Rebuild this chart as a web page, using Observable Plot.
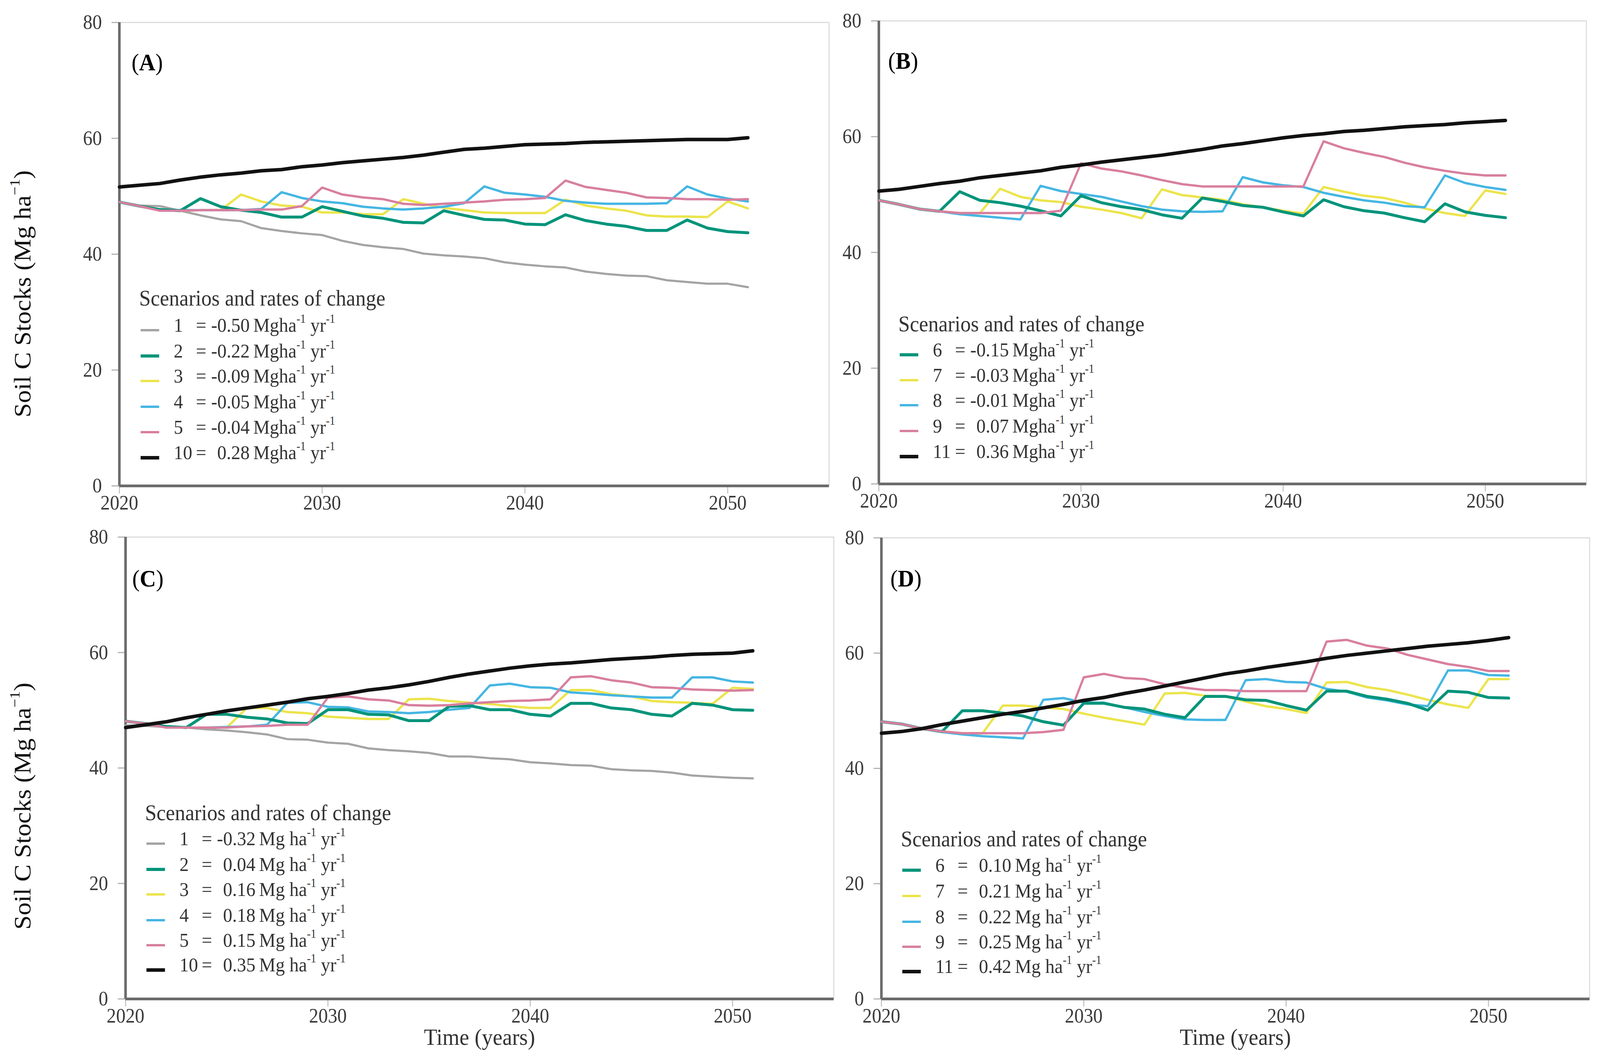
<!DOCTYPE html>
<html>
<head>
<meta charset="utf-8">
<script src="https://cdn.jsdelivr.net/npm/d3@7"></script>
<script src="https://cdn.jsdelivr.net/npm/@observablehq/plot@0.6"></script>
<style>
html,body{margin:0;padding:0;background:#fff;overflow:hidden;}
#root{position:absolute;left:0;top:0;width:4403px;height:2723px;background:#fff;font-family:"Liberation Serif","Times New Roman",serif;color:#2a2a2a;overflow:hidden;transform-origin:0 0;}
.abs{position:absolute;white-space:nowrap;line-height:1;}
sup{font-size:0.6em;vertical-align:0;position:relative;top:-0.75em;}
</style>
</head>
<body>
<div id="root"></div>
<script>
// ---------- data ----------
const years = [2020,2021,2022,2023,2024,2025,2026,2027,2028,2029,2030,2031,2032,2033,2034,2035,2036,2037,2038,2039,2040,2041,2042,2043,2044,2045,2046,2047,2048,2049,2050,2051];
const xTicks = [2020,2030,2040,2050];
const yTicks = [0,20,40,60,80];

// Panel A
const A1  = [49.0,48.4,48.3,47.5,46.7,46.0,45.7,44.5,44.0,43.6, 43.3,42.3,41.6,41.2,40.9,40.1,39.8,39.6,39.3,38.6, 38.2,37.9,37.7,37.0,36.6,36.3,36.2,35.5,35.2,34.9, 34.9,34.3];
const A2  = [49.0,48.3,47.7,47.5,49.6,48.2,47.6,47.2,46.4,46.4, 48.2,47.4,46.6,46.2,45.5,45.4,47.5,46.7,46.0,45.9, 45.2,45.1,46.8,45.8,45.2,44.8,44.1,44.1,45.9,44.5, 43.9,43.7];
const A3  = [49.0,48.3,47.7,47.5,47.6,47.6,50.3,49.1,48.4,48.2, 47.2,47.2,46.9,46.9,49.5,48.7,48.0,47.6,47.2,47.1, 47.1,47.1,49.4,48.4,47.9,47.5,46.7,46.5,46.5,46.4, 49.1,47.9];
const A4  = [49.0,48.3,47.6,47.6,47.6,47.6,47.6,47.8,50.7,49.7, 49.1,48.8,48.2,47.9,47.7,47.9,48.2,48.8,51.7,50.6, 50.3,49.9,49.2,48.9,48.7,48.7,48.7,48.8,51.7,50.3, 49.6,49.1];
const A5  = [49.0,48.3,47.5,47.5,47.6,47.6,47.6,47.7,47.7,48.3, 51.5,50.3,49.8,49.5,48.7,48.5,48.7,48.9,49.1,49.4, 49.5,49.7,52.7,51.6,51.1,50.6,49.8,49.7,49.5,49.5, 49.4,49.5];
const A10 = [51.6,51.9,52.2,52.8,53.3,53.7,54.0,54.4,54.6,55.1, 55.4,55.8,56.1,56.4,56.7,57.1,57.6,58.1,58.3,58.6, 58.9,59.0,59.1,59.3,59.4,59.5,59.6,59.7,59.8,59.8, 59.8,60.1];

// Panel B
const B6  = [49.0,48.3,47.5,47.1,50.5,49.0,48.6,48.0,47.2,46.3, 49.8,48.6,47.9,47.4,46.5,45.9,49.4,48.8,48.1,47.8, 47.0,46.3,49.1,47.9,47.2,46.8,46.0,45.3,48.4,47.0, 46.4,46.0];
const B7  = [49.0,48.3,47.5,47.1,46.8,46.8,51.0,49.6,49.0,48.7, 47.9,47.4,46.8,45.9,50.9,49.9,49.5,49.1,48.3,47.8, 47.2,46.7,51.3,50.5,49.8,49.4,48.6,47.6,46.8,46.3, 50.7,50.1];
const B8  = [49.0,48.3,47.5,47.1,46.6,46.3,46.0,45.7,51.5,50.6, 50.1,49.6,48.8,48.0,47.4,47.1,47.0,47.1,53.0,52.1, 51.6,51.3,50.3,49.6,49.0,48.6,48.0,47.8,53.3,52.0, 51.3,50.8];
const B9  = [49.0,48.3,47.5,47.1,46.8,46.8,46.8,46.8,46.8,47.2, 55.4,54.5,54.0,53.3,52.5,51.8,51.4,51.4,51.4,51.4, 51.4,51.4,59.2,58.0,57.2,56.5,55.5,54.7,54.1,53.6, 53.3,53.3];
const B11 = [50.6,50.9,51.4,51.9,52.3,52.9,53.3,53.7,54.1,54.7, 55.1,55.6,56.0,56.4,56.8,57.3,57.8,58.4,58.8,59.3, 59.8,60.2,60.5,60.9,61.1,61.4,61.7,61.9,62.1,62.4, 62.6,62.8];

// Panel C
const C1  = [47.4,47.3,47.1,47.0,46.7,46.5,46.2,45.8,45.0,44.9, 44.4,44.2,43.4,43.1,42.9,42.6,42.0,42.0,41.7,41.5, 41.0,40.8,40.5,40.4,39.8,39.6,39.5,39.2,38.7,38.5, 38.3,38.2];
const C2  = [48.1,47.7,47.2,47.0,49.3,49.3,48.8,48.5,47.8,47.7, 50.1,50.1,49.3,49.2,48.2,48.2,50.7,50.8,50.1,50.1, 49.3,49.0,51.2,51.2,50.4,50.1,49.3,49.0,51.2,50.9, 50.1,50.0];
const C3  = [48.1,47.7,47.2,47.0,47.0,47.0,50.4,50.4,49.7,49.5, 48.9,48.7,48.5,48.5,51.9,52.0,51.6,51.3,51.1,50.7, 50.4,50.4,53.5,53.5,52.8,52.4,51.6,51.4,51.3,51.1, 53.9,53.7];
const C4  = [48.1,47.7,47.2,47.0,47.0,47.1,47.2,47.5,51.3,51.4, 50.6,50.5,49.8,49.7,49.5,49.7,50.1,50.4,54.3,54.6, 54.0,53.9,53.1,52.9,52.6,52.4,52.2,52.2,55.7,55.7, 55.0,54.8];
const C5  = [48.1,47.7,47.0,47.0,47.0,47.0,47.2,47.3,47.5,47.5, 52.2,52.4,51.9,51.7,50.9,50.8,50.9,51.2,51.4,51.6, 51.7,51.9,55.7,55.9,55.2,54.8,54.0,53.9,53.6,53.5, 53.4,53.5];
const C10 = [47.0,47.5,48.0,48.7,49.3,49.9,50.4,50.9,51.4,52.0, 52.4,52.9,53.5,53.9,54.4,55.0,55.7,56.3,56.8,57.3, 57.7,58.0,58.2,58.5,58.8,59.0,59.2,59.5,59.7,59.8, 59.9,60.3];

// Panel D
const D6  = [48.1,47.7,46.9,46.4,50.0,50.0,49.6,49.1,48.1,47.5, 51.3,51.3,50.6,50.3,49.4,48.8,52.5,52.5,51.9,51.8, 50.9,50.1,53.4,53.4,52.5,52.0,51.3,50.1,53.4,53.2, 52.3,52.2];
const D7  = [48.1,47.7,46.9,46.4,46.1,46.1,50.9,50.9,50.6,50.3, 49.5,48.8,48.2,47.6,53.0,53.1,52.6,52.5,51.6,50.8, 50.3,49.6,54.9,55.0,54.1,53.6,52.8,51.9,51.1,50.5, 55.5,55.5];
const D8  = [48.1,47.7,46.9,46.3,45.9,45.6,45.4,45.2,51.9,52.2, 51.4,51.4,50.6,49.8,49.1,48.5,48.4,48.4,55.3,55.5, 55.0,54.9,53.8,53.3,52.3,51.8,51.1,50.8,57.0,57.0, 56.2,56.1];
const D9  = [48.1,47.7,46.9,46.4,46.1,46.1,46.1,46.1,46.3,46.7, 55.8,56.4,55.7,55.5,54.6,54.0,53.6,53.6,53.4,53.4, 53.4,53.4,62.0,62.3,61.3,60.8,59.7,58.9,58.1,57.6, 56.9,56.9];
const D11 = [46.1,46.4,46.9,47.6,48.2,48.8,49.4,49.9,50.5,51.1, 51.8,52.3,53.0,53.6,54.3,55.0,55.7,56.4,56.9,57.5, 58.0,58.5,59.1,59.6,60.0,60.4,60.8,61.2,61.5,61.8, 62.2,62.7];

// legend labels
const legendTitle = "Scenarios and rates of change";
const scenA = ["1","2","3","4","5","10"];
const rateA = ["-0.50","-0.22","-0.09","-0.05","-0.04","0.28"];
const scenB = ["6","7","8","9","11"];
const rateB = ["-0.15","-0.03","-0.01","0.07","0.36"];
const scenC = ["1","2","3","4","5","10"];
const rateC = ["-0.32","0.04","0.16","0.18","0.15","0.35"];
const scenD = ["6","7","8","9","11"];
const rateD = ["0.10","0.21","0.22","0.25","0.42"];
const yTitle = "Soil C Stocks (Mg ha<sup>−1</sup>)";
const xTitle = "Time (years)";

// ---------- styling ----------
const colors = {gray:"#a4a4a4", green:"#00947a", yellow:"#ece44c", blue:"#45b6e2", pink:"#d87f9f", black:"#111111"};
const widths = {gray:5.5, green:7.5, yellow:6, blue:6, pink:6, black:9};
const colorOf = {"1":"gray","2":"green","3":"yellow","4":"blue","5":"pink","10":"black",
                 "6":"green","7":"yellow","8":"blue","9":"pink","11":"black"};

const panels = [
  {label:"A", frame:[328,2281,57,1243], labelPos:[362,162],
   series:{"1":A1,"2":A2,"3":A3,"4":A4,"5":A5,"10":A10}, order:["1","3","4","2","5","10"],
   scen:scenA, rate:rateA, unit:"Mgha", leg:{left:387, titleCy:763, rows:[845,911,975,1041,1106,1171]}},
  {label:"B", frame:[2418,4365,53,1238], labelPos:[2444,158],
   series:{"6":B6,"7":B7,"8":B8,"9":B9,"11":B11}, order:["7","8","6","9","11"],
   scen:scenB, rate:rateB, unit:"Mgha", leg:{left:2476, titleCy:829, rows:[908,973,1037,1103,1168]}},
  {label:"C", frame:[345,2294,1374,2556], labelPos:[364,1483],
   series:{"1":C1,"2":C2,"3":C3,"4":C4,"5":C5,"10":C10}, order:["1","3","4","2","5","10"],
   scen:scenC, rate:rateC, unit:"Mg ha", leg:{left:403, titleCy:2080, rows:[2159,2225,2289,2355,2419,2482]}, xTitle:true},
  {label:"D", frame:[2425,4374,1376,2556], labelPos:[2450,1483],
   series:{"6":D6,"7":D7,"8":D8,"9":D9,"11":D11}, order:["7","8","6","9","11"],
   scen:scenD, rate:rateD, unit:"Mg ha", leg:{left:2483, titleCy:2147, rows:[2227,2293,2359,2423,2486]}, xTitle:true}
];

const W = 4403, H = 2723;
const root = document.getElementById("root");
function fit() {
  const vw = document.documentElement.clientWidth || window.innerWidth;
  const vh = document.documentElement.clientHeight || window.innerHeight;
  const sx = vw / W, sy = vh / H;
  root.style.transform = (Math.abs(sx - 1) < 0.002 && Math.abs(sy - 1) < 0.002) ? "none" : `scale(${sx},${sy})`;
}
function addDiv(html, css) {
  const d = document.createElement("div");
  d.className = "abs";
  d.innerHTML = html;
  Object.assign(d.style, css);
  root.appendChild(d);
  return d;
}

const xDomain = [2020, 2055];
const yDomain = [0, 80];

panels.forEach(p => {
  const [x0, x1, y0, y1] = p.frame;
  const ml = 200, mr = 30, mt = 60, mb = 90;
  const marks = [
    Plot.frame({stroke: "#dcdcdc", strokeWidth: 3}),
    Plot.axisY({ticks: yTicks, tickSize: 21, tickPadding: 27, stroke: "#b4b4b4", fill: "#3a3a3a", label: null, strokeWidth: 3}),
    Plot.axisX({ticks: xTicks, tickSize: 20, tickPadding: 4, stroke: "#c4c4c4", fill: "#3a3a3a", label: null, tickFormat: "d", strokeWidth: 3}),
    Plot.ruleX([xDomain[0]], {stroke: "#6b6b6b", strokeWidth: 7}),
    Plot.ruleY([yDomain[0]], {stroke: "#6b6b6b", strokeWidth: 7})
  ];
  p.order.forEach(id => {
    const c = colorOf[id];
    const rows = years.map((yr, i) => ({year: yr, value: p.series[id][i]}));
    marks.push(Plot.line(rows, {x: "year", y: "value", stroke: colors[c], strokeWidth: widths[c], strokeLinejoin: "round"}));
  });
  const svg = Plot.plot({
    width: x1 - x0 + ml + mr,
    height: y1 - y0 + mt + mb,
    marginLeft: ml, marginRight: mr, marginTop: mt, marginBottom: mb,
    x: {domain: xDomain},
    y: {domain: yDomain},
    style: {fontFamily: "'Liberation Serif', serif", fontSize: "52px", background: "transparent", overflow: "visible"},
    marks
  });
  svg.style.position = "absolute";
  svg.style.left = (x0 - ml) + "px";
  svg.style.top = (y0 - mt) + "px";
  root.appendChild(svg);

  // panel label
  addDiv("(<b>" + p.label + "</b>)", {left: p.labelPos[0] + "px", top: (p.labelPos[1] - 34) + "px", fontSize: "62px", color: "#000"});

  // legend
  const L = p.leg;
  addDiv(legendTitle, {left: (L.left - 4) + "px", top: (L.titleCy - 29) + "px", fontSize: "57px", color: "#333"});
  p.scen.forEach((s, i) => {
    const c = colorOf[s];
    const cy = L.rows[i];
    const sw = document.createElement("div");
    sw.className = "abs";
    Object.assign(sw.style, {left: L.left + "px", top: (cy - widths[c] / 2) + "px", width: "51px", height: widths[c] + "px", background: colors[c]});
    root.appendChild(sw);
    const tcy = cy - 13;
    const fs = 51;
    const top = (tcy - fs / 2) + "px";
    addDiv(s, {left: (L.left + 91) + "px", top, fontSize: fs + "px", color: "#333"});
    addDiv("=", {left: (L.left + 152) + "px", top, fontSize: fs + "px", color: "#333"});
    addDiv(p.rate[i], {left: (L.left + 194) + "px", top, fontSize: fs + "px", color: "#333", width: "106px", textAlign: "right"});
    addDiv(p.unit + "<sup>-1</sup> yr<sup>-1</sup>", {left: (L.left + 310) + "px", top, fontSize: fs + "px", color: "#333"});
  });

  if (p.xTitle) {
    const cx = (x0 + x1) / 2;
    addDiv(xTitle, {left: cx + "px", top: (2654 - 30) + "px", fontSize: "60px", color: "#333", transform: "translateX(-50%)"});
  }
});

// y titles
[752, 2063].forEach(cy => {
  addDiv(yTitle, {left: "62px", top: cy + "px", fontSize: "66px", color: "#111", transform: "translate(-50%,-50%) rotate(-90deg)"});
});

fit();
window.addEventListener("resize", fit);
</script>
</body>
</html>
